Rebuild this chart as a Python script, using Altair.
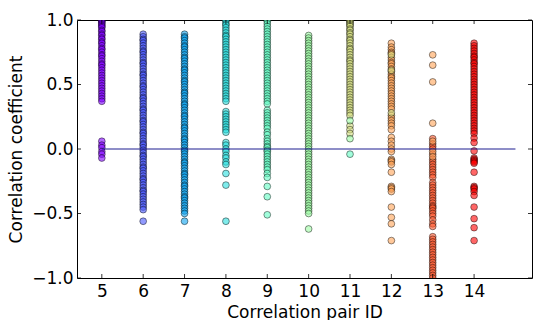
import altair as alt
import pandas as pd

pair_ids = [5, 6, 7, 8, 9, 10, 11, 12, 13, 14]
pair_colors = ["#8000ff", "#4757fb", "#0ea4f0", "#2adddd", "#63fbc3",
               "#9cfba4", "#d4dd80", "#ffa457", "#ff572c", "#ff0000"]

p5 = [1.0, 0.995, 0.99, 0.98, 0.97, 0.96, 0.95, 0.94, 0.92, 0.91, 0.89, 0.88, 0.86, 0.85,
      0.83, 0.82, 0.80, 0.78, 0.77, 0.75, 0.73, 0.72, 0.70, 0.68, 0.66, 0.65, 0.63, 0.61,
      0.59, 0.57, 0.55, 0.53, 0.51, 0.49, 0.47, 0.45, 0.43, 0.41, 0.39, 0.37,
      0.06, 0.03, 0.01, -0.02, -0.04, -0.07]
p6 = [0.89, 0.87, 0.85, 0.84, 0.82, 0.80, 0.78, 0.76, 0.75, 0.73, 0.71, 0.69, 0.67, 0.66,
      0.64, 0.62, 0.60, 0.58, 0.57, 0.55, 0.53, 0.51, 0.49, 0.48, 0.46, 0.44, 0.42, 0.40,
      0.39, 0.37, 0.35, 0.33, 0.31, 0.30, 0.28, 0.26, 0.24, 0.22, 0.21, 0.19, 0.17, 0.15,
      0.13, 0.12, 0.10, 0.08, 0.06, 0.04, 0.03, 0.01, -0.01, -0.03, -0.05, -0.06, -0.08,
      -0.10, -0.12, -0.14, -0.15, -0.17, -0.19, -0.21, -0.23, -0.24, -0.26, -0.28, -0.30,
      -0.32, -0.33, -0.35, -0.37, -0.39, -0.41, -0.43, -0.45, -0.47, -0.56]
p7 = [0.89, 0.87, 0.86, 0.84, 0.82, 0.80, 0.79, 0.77, 0.75, 0.73, 0.71, 0.70, 0.68, 0.66,
      0.64, 0.62, 0.61, 0.59, 0.57, 0.55, 0.53, 0.52, 0.50, 0.48, 0.46, 0.44, 0.43, 0.41,
      0.39, 0.37, 0.35, 0.34, 0.32, 0.30, 0.28, 0.26, 0.25, 0.23, 0.21, 0.19, 0.17, 0.16,
      0.14, 0.12, 0.10, 0.08, 0.07, 0.05, 0.03, 0.01, -0.01, -0.02, -0.04, -0.06, -0.08,
      -0.10, -0.11, -0.13, -0.15, -0.17, -0.19, -0.20, -0.22, -0.24, -0.26, -0.28, -0.29,
      -0.31, -0.33, -0.35, -0.37, -0.38, -0.40, -0.42, -0.44, -0.46, -0.48, -0.50, -0.56]
p8 = [1.0, 0.99, 0.97, 0.96, 0.94, 0.92, 0.90, 0.88, 0.87, 0.85, 0.83, 0.81, 0.79, 0.77,
      0.75, 0.73, 0.71, 0.69, 0.67, 0.65, 0.63, 0.61, 0.59, 0.57, 0.55, 0.53, 0.51, 0.49,
      0.47, 0.45, 0.43, 0.41, 0.39, 0.37, 0.29, 0.27, 0.25, 0.23, 0.21, 0.19, 0.17, 0.15,
      0.13, 0.05, 0.03, 0.0, -0.02, -0.05, -0.07, -0.10, -0.12, -0.19, -0.28, -0.56]
p9 = [1.0, 0.99, 0.97, 0.95, 0.93, 0.91, 0.89, 0.87, 0.85, 0.83, 0.81, 0.79, 0.77, 0.75,
      0.73, 0.71, 0.69, 0.67, 0.65, 0.63, 0.61, 0.59, 0.57, 0.55, 0.53, 0.51, 0.49, 0.47,
      0.45, 0.43, 0.41, 0.39, 0.37, 0.35, 0.30, 0.28, 0.26, 0.24, 0.22, 0.20, 0.18, 0.16,
      0.13, 0.11, 0.08, 0.06, 0.04, 0.02, 0.01, -0.01, -0.02, -0.04, -0.06, -0.08, -0.10,
      -0.12, -0.14, -0.16, -0.19, -0.22, -0.29, -0.37, -0.51]
p10 = [0.88, 0.86, 0.84, 0.82, 0.80, 0.78, 0.76, 0.74, 0.72, 0.70, 0.68, 0.66, 0.64, 0.62,
       0.60, 0.58, 0.56, 0.54, 0.52, 0.50, 0.48, 0.46, 0.44, 0.42, 0.40, 0.38, 0.36, 0.34,
       0.32, 0.30, 0.28, 0.26, 0.24, 0.22, 0.20, 0.18, 0.16, 0.14, 0.12, 0.10, 0.08, 0.06,
       0.04, 0.02, 0.0, -0.02, -0.04, -0.06, -0.08, -0.10, -0.12, -0.14, -0.16, -0.18,
       -0.20, -0.22, -0.24, -0.26, -0.28, -0.30, -0.32, -0.34, -0.36, -0.38, -0.40, -0.42,
       -0.44, -0.46, -0.48, -0.50, -0.62]
p11 = [1.0, 0.995, 0.99, 0.98, 0.97, 0.96, 0.95, 0.93, 0.92, 0.90, 0.89, 0.87, 0.85, 0.84,
       0.82, 0.80, 0.78, 0.77, 0.75, 0.73, 0.71, 0.69, 0.68, 0.66, 0.64, 0.62, 0.60, 0.58,
       0.56, 0.54, 0.52, 0.50, 0.48, 0.46, 0.44, 0.42, 0.40, 0.38, 0.36, 0.34, 0.32, 0.30,
       0.28, 0.26, 0.18, 0.15, 0.12]
p12 = [0.82, 0.79, 0.77, 0.75, 0.74, 0.71, 0.69, 0.67, 0.66, 0.64, 0.62, 0.60, 0.58, 0.56,
       0.55, 0.53, 0.51, 0.49, 0.47, 0.45, 0.43, 0.41, 0.39, 0.37, 0.35, 0.33, 0.31, 0.26,
       0.24, 0.22, 0.20, 0.18, 0.15, 0.09, 0.06, 0.03, 0.0, -0.02, -0.08, -0.09, -0.10,
       -0.12, -0.18, -0.29, -0.30, -0.31, -0.33, -0.45, -0.53, -0.58, -0.71]
p13 = [0.08, 0.04, 0.02, 0.0, -0.04, -0.08, -0.10, -0.12, -0.14, -0.16, -0.18, -0.20,
       -0.22, -0.26, -0.28, -0.30, -0.32, -0.34, -0.36, -0.38, -0.40, -0.42, -0.44, -0.45,
       -0.46, -0.48, -0.50, -0.52, -0.55, -0.58, -0.60, -0.68, -0.70, -0.72, -0.74, -0.76,
       -0.78, -0.80, -0.82, -0.84, -0.86, -0.88, -0.90, -0.92, -0.94, -0.96, -0.98, -1.0]
p14 = [0.82, 0.80, 0.78, 0.76, 0.74, 0.72, 0.71, 0.69, 0.67, 0.66, 0.64, 0.62, 0.60, 0.58,
       0.56, 0.54, 0.52, 0.50, 0.48, 0.46, 0.44, 0.42, 0.40, 0.38, 0.36, 0.34, 0.32, 0.30,
       0.28, 0.26, 0.24, 0.22, 0.20, 0.18, 0.16, 0.14, 0.12, 0.085, 0.05, -0.015, -0.07,
       -0.08, -0.09, -0.10, -0.11, -0.18, -0.29, -0.30, -0.31, -0.33, -0.36, -0.45, -0.54,
       -0.61, -0.71]

# points whose colour belongs to another pair: (pair, value, colour pair)
off_pair = [11, 11, 11, 12, 12, 12, 13, 13, 13, 13, 13, 13, 13]
off_value = [0.22, 0.08, -0.04, 0.73, 0.61, 0.28, 0.73, 0.65, 0.52, 0.20, 0.06, -0.02, -0.06]
off_color = [10, 10, 9, 11, 11, 11, 12, 12, 12, 12, 12, 12, 12]

x_ticks = [5, 6, 7, 8, 9, 10, 11, 12, 13, 14]
y_ticks = [-1.0, -0.5, 0.0, 0.5, 1.0]

series = [p5, p6, p7, p8, p9, p10, p11, p12, p13, p14]
rows = []
for pid, vals in zip(pair_ids, series):
    for v in vals:
        rows.append({"pair": pid, "value": v, "ckey": str(pid)})
for pid, v, c in zip(off_pair, off_value, off_color):
    rows.append({"pair": pid, "value": v, "ckey": str(c)})
df = pd.DataFrame(rows)

FONT = "DejaVu Sans"
xscale = alt.Scale(domain=[4.4, 15.4], nice=False, zero=False)
yscale = alt.Scale(domain=[-1.0, 1.0], nice=False, zero=False)

xaxis = alt.Axis(values=x_ticks, title="Correlation pair ID", grid=False,
                 domain=False, tickSize=0, labelPadding=5, titlePadding=5,
                 labelFontSize=17, titleFontSize=17, labelFont=FONT,
                 titleFont=FONT, titleFontWeight="normal",
                 labelColor="black", titleColor="black")
yaxis = alt.Axis(values=y_ticks, format=".1f", title="Correlation coefficient",
                 grid=False, domain=False, tickSize=0, labelPadding=4,
                 titlePadding=6, labelFontSize=17, titleFontSize=17,
                 labelFont=FONT, titleFont=FONT, titleFontWeight="normal",
                 labelColor="black", titleColor="black")

points = alt.Chart(df).mark_circle(
    size=46, fillOpacity=0.6, strokeOpacity=0.55, stroke="black", strokeWidth=0.8,
    clip=True
).encode(
    x=alt.X("pair:Q", scale=xscale, axis=xaxis),
    y=alt.Y("value:Q", scale=yscale, axis=yaxis),
    color=alt.Color("ckey:N", scale=alt.Scale(domain=[str(p) for p in pair_ids],
                                              range=pair_colors), legend=None),
)

zero_df = pd.DataFrame({"pair": [5], "pair2": [15], "value": [0.0]})
zero_line = alt.Chart(zero_df).mark_rule(color="#1c1c90", strokeWidth=1).encode(
    x=alt.X("pair:Q", scale=xscale, axis=xaxis),
    x2="pair2:Q",
    y=alt.Y("value:Q", scale=yscale, axis=yaxis),
)

xt = pd.DataFrame({"pair": x_ticks})
yt = pd.DataFrame({"value": y_ticks})
tick_style = dict(color="black", strokeWidth=0.8)
xb = alt.Chart(xt).mark_rule(**tick_style).encode(
    x=alt.X("pair:Q", scale=xscale, axis=xaxis), y=alt.value(258), y2=alt.value(254))
xtop = alt.Chart(xt).mark_rule(**tick_style).encode(
    x=alt.X("pair:Q", scale=xscale, axis=xaxis), y=alt.value(0), y2=alt.value(4))
yl = alt.Chart(yt).mark_rule(**tick_style).encode(
    y=alt.Y("value:Q", scale=yscale, axis=yaxis), x=alt.value(0), x2=alt.value(4))
yr = alt.Chart(yt).mark_rule(**tick_style).encode(
    y=alt.Y("value:Q", scale=yscale, axis=yaxis), x=alt.value(455), x2=alt.value(451))

chart = alt.layer(points, zero_line, xb, xtop, yl, yr).properties(
    width=455, height=258,
    padding={"left": 77, "top": 20, "right": 2, "bottom": 42},
    autosize="none",
    background="white",
).configure_view(stroke="black", strokeWidth=1)

chart.save("out.html", embed_options={"renderer": "svg", "actions": False})
